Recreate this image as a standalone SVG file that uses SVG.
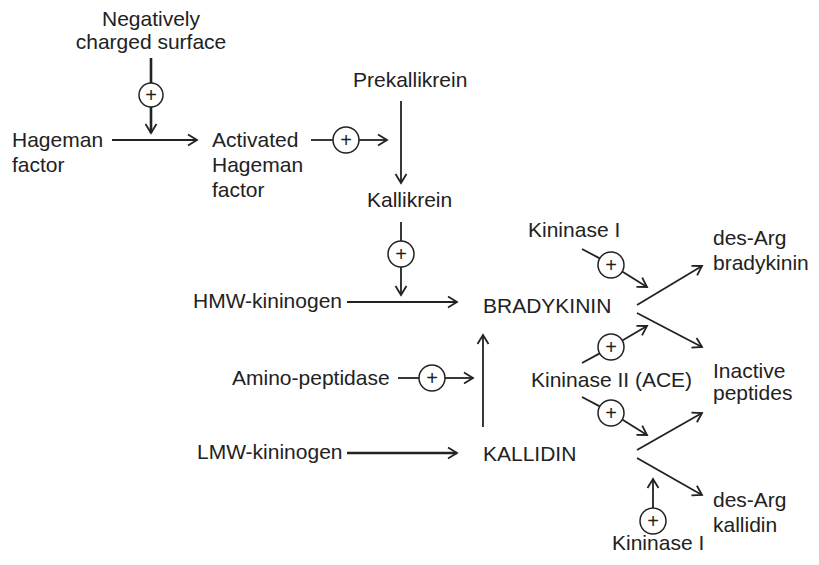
<svg xmlns="http://www.w3.org/2000/svg" width="819" height="565" viewBox="0 0 819 565">
<defs>
<style>
text{font-family:"Liberation Sans",Arial,Helvetica,sans-serif;font-size:21px;fill:#222}
.plus{font-size:20px;text-anchor:middle}
.c{text-anchor:middle}
line{stroke:#222;stroke-width:1.8;fill:none}
.thick{stroke-width:2.6}
circle{fill:#fff;stroke:#222;stroke-width:1.5}
</style>
<marker id="ah" markerUnits="userSpaceOnUse" markerWidth="20" markerHeight="20" refX="0" refY="0" orient="auto" overflow="visible">
<path d="M-9,-5.5 L0,0 L-9,5.5" fill="none" stroke="#222" stroke-width="1.8"/>
</marker>
</defs>

<g id="connectors">
<line class="thick" x1="151" y1="58" x2="151" y2="83"/>
<line class="thick" x1="151" y1="107" x2="151" y2="133" marker-end="url(#ah)"/>
<line x1="112" y1="140" x2="197" y2="140" marker-end="url(#ah)"/>
<line x1="311" y1="140" x2="333" y2="140"/>
<line x1="359" y1="140" x2="387" y2="140" marker-end="url(#ah)"/>
<line x1="401" y1="101" x2="401" y2="183" marker-end="url(#ah)"/>
<line x1="401" y1="222" x2="401" y2="241"/>
<line x1="401" y1="267" x2="401" y2="295" marker-end="url(#ah)"/>
<line x1="347" y1="302" x2="457" y2="302" marker-end="url(#ah)"/>
<line x1="483" y1="427" x2="483" y2="335" marker-end="url(#ah)"/>
<line x1="398" y1="378" x2="419" y2="378"/>
<line x1="445" y1="378" x2="473" y2="378" marker-end="url(#ah)"/>
<line class="thick" x1="347" y1="453" x2="457" y2="453" marker-end="url(#ah)"/>
<line x1="582" y1="249" x2="599.8" y2="258.4"/>
<line x1="622.2" y1="271.6" x2="647" y2="287" marker-end="url(#ah)"/>
<line x1="637" y1="305" x2="702" y2="266" marker-end="url(#ah)"/>
<line x1="637" y1="313" x2="702" y2="347" marker-end="url(#ah)"/>
<line x1="582" y1="363" x2="599.7" y2="353.4"/>
<line x1="622.3" y1="340.6" x2="647" y2="326" marker-end="url(#ah)"/>
<line x1="582" y1="397" x2="599.8" y2="406.4"/>
<line x1="622.2" y1="419.6" x2="647" y2="435" marker-end="url(#ah)"/>
<line x1="637" y1="450" x2="702" y2="413" marker-end="url(#ah)"/>
<line x1="637" y1="458" x2="702" y2="495" marker-end="url(#ah)"/>
<line x1="653" y1="508" x2="653" y2="479" marker-end="url(#ah)"/>
</g>

<g id="surface"><text class="c" x="151" y="26">Negatively</text><text class="c" x="151" y="49">charged surface</text></g>
<g id="plus1"><circle cx="151" cy="95" r="12"/><text class="plus" x="151" y="102">+</text></g>
<g id="hageman"><text x="12" y="147">Hageman</text><text x="12" y="172">factor</text></g>
<g id="activated"><text x="212" y="147">Activated</text><text x="212" y="172">Hageman</text><text x="212" y="197">factor</text></g>
<g id="plus2"><circle cx="346" cy="140" r="13"/><text class="plus" x="346" y="147">+</text></g>
<g id="prekallikrein"><text x="353" y="87">Prekallikrein</text></g>
<g id="kallikrein"><text x="367" y="207">Kallikrein</text></g>
<g id="plus3"><circle cx="401" cy="254" r="13"/><text class="plus" x="401" y="261">+</text></g>
<g id="hmw"><text x="193" y="308">HMW-kininogen</text></g>
<g id="bradykinin"><text x="483" y="313">BRADYKININ</text></g>
<g id="amino"><text x="232" y="385">Amino-peptidase</text></g>
<g id="plus4"><circle cx="432" cy="378" r="13"/><text class="plus" x="432" y="385">+</text></g>
<g id="lmw"><text x="197" y="459">LMW-kininogen</text></g>
<g id="kallidin"><text x="483" y="461">KALLIDIN</text></g>
<g id="kininase1a"><text x="528" y="237">Kininase I</text></g>
<g id="plus5"><circle cx="611" cy="265" r="13"/><text class="plus" x="611" y="272">+</text></g>
<g id="desargbk"><text x="713" y="245">des-Arg</text><text x="713" y="270">bradykinin</text></g>
<g id="plus6"><circle cx="611" cy="347" r="13"/><text class="plus" x="611" y="354">+</text></g>
<g id="kininase2"><text x="531" y="387">Kininase II (ACE)</text></g>
<g id="plus7"><circle cx="611" cy="413" r="13"/><text class="plus" x="611" y="420">+</text></g>
<g id="inactive"><text x="713" y="378">Inactive</text><text x="713" y="400">peptides</text></g>
<g id="desargk"><text x="713" y="507">des-Arg</text><text x="713" y="532">kallidin</text></g>
<g id="plus8"><circle cx="653" cy="521" r="13"/><text class="plus" x="653" y="528">+</text></g>
<g id="kininase1b"><text x="612" y="550">Kininase I</text></g>
</svg>
